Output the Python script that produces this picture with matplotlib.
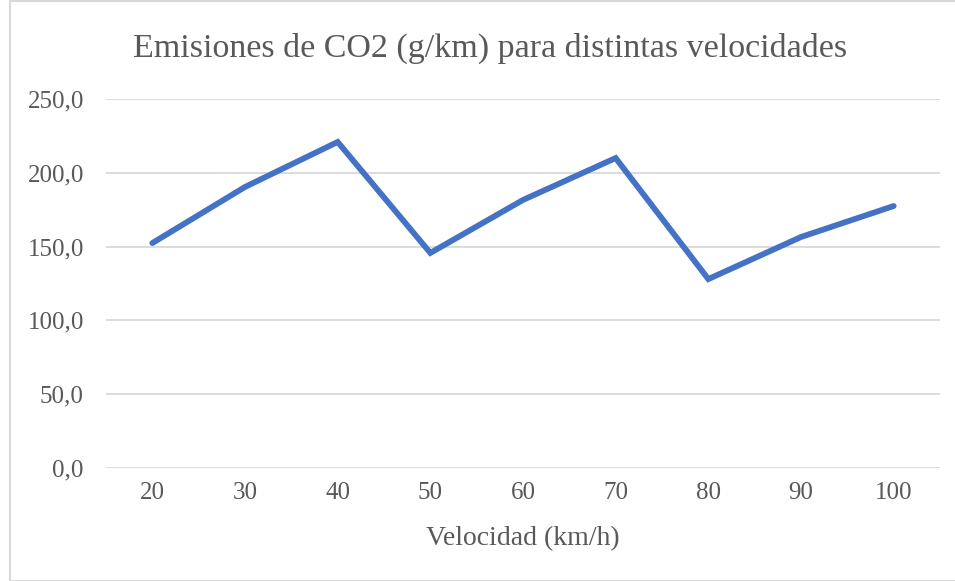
import matplotlib.pyplot as plt
from matplotlib.patches import Rectangle

# Emisiones de CO2 por velocidad
velocidades = ["20", "30", "40", "50", "60", "70", "80", "90", "100"]
emisiones = [152.4, 190.4, 220.9, 145.7, 181.6, 210.0, 128.0, 156.5, 177.5]
yticks = [0, 50, 100, 150, 200, 250]

plt.rcParams['font.family'] = ['Liberation Serif', 'DejaVu Serif']
txt = '#595959'

fig = plt.figure(figsize=(9.55, 5.81), dpi=100)
ax = fig.add_axes([106/955, 1 - 468/581, (940 - 106)/955, (468 - 99)/581])

x = list(range(len(velocidades)))
ax.plot(x, emisiones, color='#4472C4', linewidth=4.2, solid_capstyle='round', solid_joinstyle='miter')

ax.set_xlim(-0.5, len(velocidades) - 0.5)
ax.set_ylim(0, 250)
ax.set_yticks(yticks)
ax.set_yticklabels([f"{v:.1f}".replace('.', ',') for v in yticks], fontsize=18, color=txt)
ax.set_xticks(x)
ax.set_xticklabels(velocidades, fontsize=18, color=txt)
ax.tick_params(length=0, pad=10)
ax.tick_params(axis='y', pad=16)
ax.grid(axis='y', color='#D9D9D9', linewidth=1.3)
ax.set_axisbelow(True)
for s in ax.spines.values():
    s.set_visible(False)
ax.set_xlabel("Velocidad (km/h)", fontsize=20, color=txt, labelpad=16)

fig.text(490/955, 1 - 48/581, "Emisiones de CO2 (g/km) para distintas velocidades",
         fontsize=24.5, color=txt, ha='center', va='center')

fig.patches.append(Rectangle((10/955, 0), 1, 1 - 1/581, transform=fig.transFigure,
                             fill=False, edgecolor='#D9D9D9', linewidth=1.5))

fig.savefig("out.png", dpi=100)
